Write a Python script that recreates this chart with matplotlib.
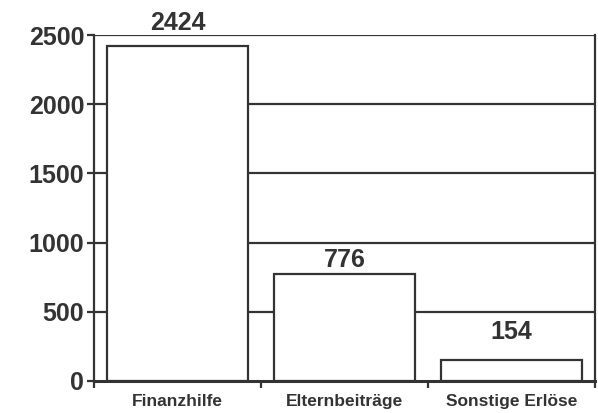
import matplotlib.pyplot as plt
import numpy as np

categories = ['Finanzhilfe', 'Elternbeiträge', 'Sonstige Erlöse']
values = [2424, 776, 154]
label_offsets = [8, 1, 11]  # pts above bar top, as in the original

plt.rcParams['font.family'] = ['Liberation Sans', 'DejaVu Sans']
plt.rcParams['font.weight'] = 'bold'
col = '#333333'

fig = plt.figure(figsize=(5.98, 4.13), dpi=100)
ax = fig.add_axes([0.157, 0.0775, 0.838, 0.8375])

x = np.arange(len(categories))
for y in [500, 1000, 1500, 2000, 2500]:
	ax.axhline(y, color=col, lw=1.6, zorder=1)
ax.bar(x, values, width=0.84, facecolor='white', edgecolor=col, linewidth=1.6, zorder=2)

for i, v in enumerate(values):
	ax.annotate(str(v), (x[i], v), xytext=(0, label_offsets[i]), textcoords='offset points',
		ha='center', va='bottom', fontsize=18, fontweight='bold', color=col)

ax.set_xlim(-0.5, 2.5)
ax.set_ylim(0, 2500)
ax.set_yticks([0, 500, 1000, 1500, 2000, 2500])
ax.tick_params(axis='y', labelsize=18, colors=col, width=1.6, length=5, pad=2)
ax.set_xticks(x)
ax.set_xticklabels(categories, fontsize=12.5, fontweight='bold', color=col)
ax.tick_params(axis='x', which='major', length=0, pad=9.5)
ax.set_xticks([-0.5, 0.5, 1.5, 2.5], minor=True)
ax.tick_params(axis='x', which='minor', length=5, width=1.6, color=col)

for s in ['left', 'bottom', 'right']:
	ax.spines[s].set_color(col)
	ax.spines[s].set_linewidth(1.6)
ax.spines['bottom'].set_linewidth(2.2)
ax.spines['top'].set_visible(False)

fig.savefig('out.png', dpi=100)
